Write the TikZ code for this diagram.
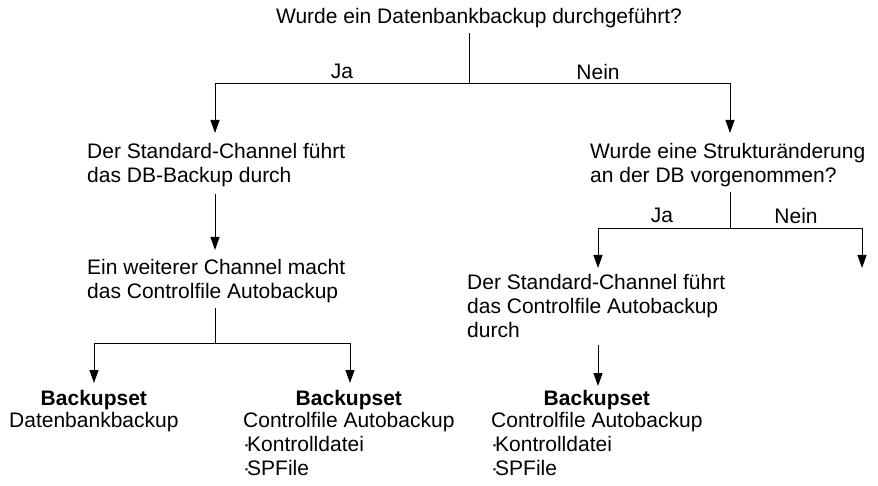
\documentclass[tikz,border=0pt]{standalone}
\usepackage{fontspec}
\setmainfont{Liberation Sans}
\usetikzlibrary{arrows.meta,positioning}
\newcommand{\bdot}{·\kern-3pt}

\begin{document}
\begin{tikzpicture}[
    x=1pt, y=-1pt,
    txt/.style={inner sep=0pt, align=left, anchor=north west, font=\fontsize{21}{24}\selectfont},
    lbl/.style={inner sep=0pt, anchor=north, font=\fontsize{21}{24}\selectfont},
    head/.style={inner sep=0pt, font=\fontsize{21}{24}\selectfont\bfseries},
    link/.style={line width=1pt},
    arrow/.style={link, -{Triangle[length=13pt,width=9pt]}}
]
\useasboundingbox (0,0) rectangle (878,486);

\node[lbl] (q1) at (479,8) {Wurde ein Datenbankbackup durchgeführt?};
\node[lbl] (ja1) at (342,64) {Ja};
\node[lbl] (nein1) at (598,64) {Nein};

\node[txt] (n1) at (87,143) {Der Standard-Channel führt\\das DB-Backup durch};
\node[txt] (n2) at (87,259) {Ein weiterer Channel macht\\das Controlfile Autobackup};
\node[txt] (q2) at (590,143) {Wurde eine Strukturänderung\\an der DB vorgenommen?};
\node[lbl] (ja2) at (662,208) {Ja};
\node[lbl] (nein2) at (796,208) {Nein};
\node[txt] (n3) at (467,274) {Der Standard-Channel führt\\das Controlfile Autobackup\\durch};

\node[txt] (set1) at (9,412) {Datenbankbackup};
\node[txt] (set2) at (243,412) {Controlfile Autobackup\\\bdot Kontrolldatei\\\bdot SPFile};
\node[txt] (set3) at (491,412) {Controlfile Autobackup\\\bdot Kontrolldatei\\\bdot SPFile};
\node[head, above=2pt of set1] (h1) {Backupset};
\node[head, above=2pt of set2] (h2) {Backupset};
\node[head, above=2pt of set3] (h3) {Backupset};

% split points and arrow ends
\coordinate (s1) at (469,84);
\coordinate (s2) at (215,343);
\coordinate (s3) at (730,229);
\coordinate (t1) at (215,133);
\coordinate (t2) at (730,133);
\coordinate (t3) at (94,383);
\coordinate (t4) at (350,383);
\coordinate (t5) at (598,268);
\coordinate (t6) at (862,268);

\draw[link, shorten <=5pt] (s1 |- q1.south) -- (s1);
\draw[arrow] (s1) -| (t1);
\draw[arrow] (s1) -| (t2);
\draw[arrow, shorten <=7pt, shorten >=9pt] (t1 |- n1.south) -- (t1 |- n2.north);
\draw[link, shorten <=5pt] (s2 |- n2.south) -- (s2);
\draw[arrow] (s2) -| (t3);
\draw[arrow] (s2) -| (t4);
\draw[link, shorten <=5pt] (s3 |- q2.south) -- (s3);
\draw[arrow] (s3) -| (t5);
\draw[arrow] (s3) -| (t6);
\draw[arrow, shorten <=7pt, shorten >=4pt] (t5 |- n3.south) -- (t5 |- h3.north);
\end{tikzpicture}
\end{document}
